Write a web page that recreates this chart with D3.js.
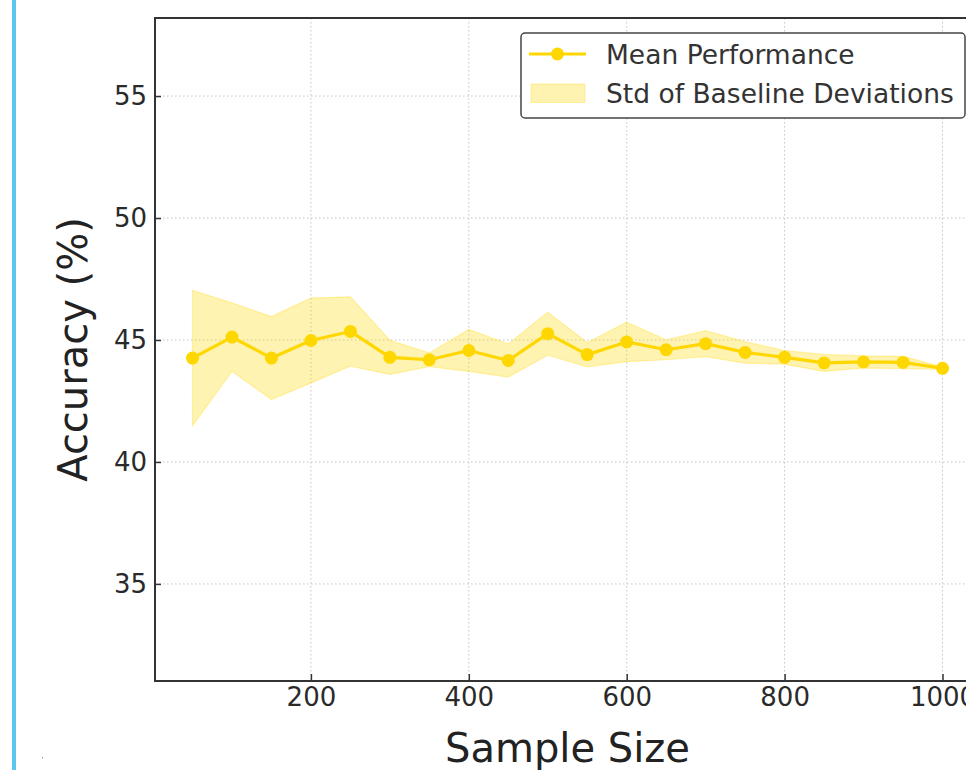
<!DOCTYPE html>
<html>
<head>
<meta charset="utf-8">
<script src="https://cdn.jsdelivr.net/npm/d3@7"></script>
<style>
    body { margin: 0; background: #fff; }
    svg { display: block; font-family: "DejaVu Sans", sans-serif; }
    .grid line { stroke: #c4c4c4; stroke-width: 1; stroke-dasharray: 1.5,2.5; }
    .tick text { fill: #2a2a2a; font-size: 26px; }
</style>
</head>
<body>
<div id="main"></div>
<script>
const ctx = {
    SVG_W: 966,
    SVG_H: 770,
    left: 155, right: 980, top: 18, bottom: 681,
};

const sampleSizes = [50, 100, 150, 200, 250, 300, 350, 400, 450, 500,
                     550, 600, 650, 700, 750, 800, 850, 900, 950, 1000];
const meanAcc = [44.26, 45.12, 44.26, 44.98, 45.35, 44.29, 44.19, 44.57, 44.16, 45.26,
                 44.40, 44.92, 44.60, 44.85, 44.49, 44.29, 44.06, 44.10, 44.08, 43.84];
const stdDev = [2.78, 1.40, 1.70, 1.74, 1.42, 0.70, 0.28, 0.86, 0.68, 0.88,
                0.50, 0.81, 0.41, 0.53, 0.44, 0.28, 0.35, 0.25, 0.25, 0.05];
const xTicks = [200, 400, 600, 800, 1000];
const yTicks = [35, 40, 45, 50, 55];
const legendLabels = ["Mean Performance", "Std of Baseline Deviations"];

const GOLD = "#FFD700";

function createViz() {
    let svgEl = d3.select("#main").append("svg")
        .attr("width", ctx.SVG_W)
        .attr("height", ctx.SVG_H)
        .style("overflow", "hidden");

    // blue bar on the far left
    svgEl.append("rect")
        .attr("x", 12).attr("y", 0)
        .attr("width", 4).attr("height", ctx.SVG_H)
        .attr("fill", "#5bc6ee");
    svgEl.append("rect")
        .attr("x", 42).attr("y", 757)
        .attr("width", 1).attr("height", 1.5)
        .attr("fill", "#999");

    let x = d3.scaleLinear().domain([2.5, 1047.5]).range([ctx.left, ctx.right]);
    let y = d3.scaleLinear().domain([31.02, 58.2]).range([ctx.bottom, ctx.top]);

    // grid
    let grid = svgEl.append("g").attr("class", "grid");
    grid.selectAll("line.gx")
        .data(xTicks)
        .enter()
        .append("line")
        .attr("x1", d => x(d)).attr("x2", d => x(d))
        .attr("y1", ctx.top).attr("y2", ctx.bottom);
    grid.selectAll("line.gy")
        .data(yTicks)
        .enter()
        .append("line")
        .attr("x1", ctx.left).attr("x2", ctx.right)
        .attr("y1", d => y(d)).attr("y2", d => y(d));

    let pts = sampleSizes.map((s, i) => ({ s: s, m: meanAcc[i], sd: stdDev[i] }));

    // std band
    let area = d3.area()
        .x(d => x(d.s))
        .y0(d => y(d.m - d.sd))
        .y1(d => y(d.m + d.sd));
    svgEl.append("path")
        .datum(pts)
        .attr("d", area)
        .attr("fill", GOLD)
        .attr("fill-opacity", 0.3)
        .attr("stroke", GOLD)
        .attr("stroke-opacity", 0.3)
        .attr("stroke-width", 1.2);

    // mean line
    let line = d3.line()
        .x(d => x(d.s))
        .y(d => y(d.m));
    svgEl.append("path")
        .datum(pts)
        .attr("d", line)
        .attr("fill", "none")
        .attr("stroke", GOLD)
        .attr("stroke-width", 3.2)
        .attr("stroke-linejoin", "round");
    svgEl.append("g").selectAll("circle")
        .data(pts)
        .enter()
        .append("circle")
        .attr("cx", d => x(d.s))
        .attr("cy", d => y(d.m))
        .attr("r", 6.5)
        .attr("fill", GOLD);

    // axes, ticks inward
    let xAxis = d3.axisBottom(x).tickValues(xTicks).tickFormat(d3.format("d"))
        .tickSizeInner(-7).tickSizeOuter(0).tickPadding(6);
    let yAxis = d3.axisLeft(y).tickValues(yTicks).tickFormat(d3.format("d"))
        .tickSizeInner(-6).tickSizeOuter(0).tickPadding(8);
    let gx = svgEl.append("g")
        .attr("transform", "translate(0," + ctx.bottom + ")")
        .call(xAxis);
    let gy = svgEl.append("g")
        .attr("transform", "translate(" + ctx.left + ",0)")
        .call(yAxis);
    [gx, gy].forEach(g => {
        g.select(".domain").remove();
        g.selectAll(".tick line").attr("stroke", "#333").attr("stroke-width", 1.5);
        g.selectAll(".tick text").style("font-family", "DejaVu Sans");
    });
    gx.selectAll(".tick text").attr("dy", "0.72em");

    // spines
    svgEl.append("rect")
        .attr("x", ctx.left).attr("y", ctx.top)
        .attr("width", ctx.right - ctx.left)
        .attr("height", ctx.bottom - ctx.top)
        .attr("fill", "none")
        .attr("stroke", "#333")
        .attr("stroke-width", 2);

    // axis labels
    svgEl.append("text")
        .attr("x", (ctx.left + ctx.right) / 2)
        .attr("y", 762)
        .attr("text-anchor", "middle")
        .attr("fill", "#222")
        .style("font-size", "40px")
        .text("Sample Size");
    svgEl.append("text")
        .attr("transform", "translate(87," + (ctx.top + ctx.bottom) / 2 + ") rotate(-90)")
        .attr("text-anchor", "middle")
        .attr("fill", "#222")
        .style("font-size", "40px")
        .text("Accuracy (%)");

    // legend
    let lg = svgEl.append("g");
    lg.append("rect")
        .attr("x", 521).attr("y", 33)
        .attr("width", 444).attr("height", 85)
        .attr("rx", 4)
        .attr("fill", "#fff")
        .attr("stroke", "#444")
        .attr("stroke-width", 1.5);
    lg.append("line")
        .attr("x1", 529).attr("x2", 586)
        .attr("y1", 54).attr("y2", 54)
        .attr("stroke", GOLD)
        .attr("stroke-width", 3.2);
    lg.append("circle")
        .attr("cx", 557.5).attr("cy", 54).attr("r", 6.5)
        .attr("fill", GOLD);
    lg.append("rect")
        .attr("x", 531).attr("y", 84)
        .attr("width", 54).attr("height", 18.5)
        .attr("fill", GOLD).attr("fill-opacity", 0.3)
        .attr("stroke", GOLD).attr("stroke-opacity", 0.3);
    lg.selectAll("text.lbl")
        .data(legendLabels)
        .enter()
        .append("text")
        .attr("x", 606)
        .attr("y", (d, i) => 64 + i * 38.5)
        .attr("fill", "#333")
        .style("font-size", "26.5px")
        .text(d => d);
}

createViz();
</script>
</body>
</html>
